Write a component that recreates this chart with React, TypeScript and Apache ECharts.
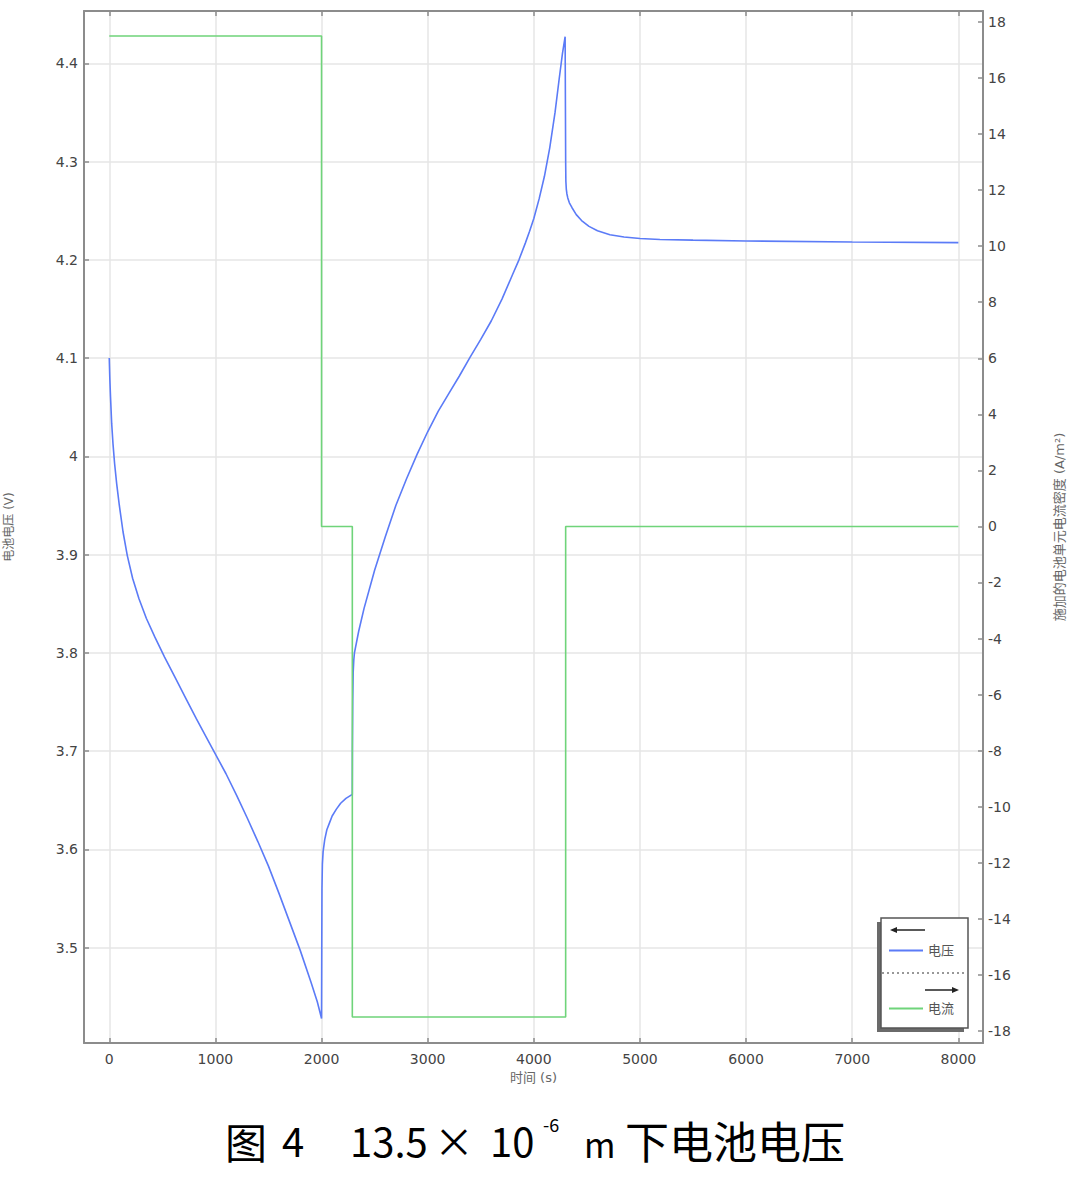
import React, { useEffect, useRef } from 'react';
import * as echarts from 'echarts';

// ---- data ----
const voltageTime = [
  0, 5, 12, 23, 35, 50, 70, 95, 130, 170, 220, 280, 350, 430, 520, 620, 720, 820, 920, 1000,
  1100, 1200, 1300, 1400, 1500, 1600, 1700, 1800, 1900, 1960, 2000,
  2002, 2004, 2008, 2015, 2030, 2050, 2075, 2100, 2140, 2180, 2230, 2290,
  2291, 2294, 2298, 2304, 2310, 2350, 2400, 2500, 2600, 2700, 2800, 2900, 3000, 3100, 3200, 3300, 3400,
  3500, 3600, 3700, 3800, 3860, 3920, 3960, 4000, 4050, 4100, 4150, 4200, 4240, 4270, 4295,
  4300, 4302, 4306, 4312, 4320, 4335, 4360, 4400, 4450, 4520, 4600, 4717, 4850, 5000, 5188, 5500, 6000, 7000, 8000,
];
const voltageValue = [
  4.1, 4.08, 4.06, 4.033, 4.013, 3.993, 3.972, 3.95, 3.923, 3.899, 3.876, 3.855, 3.835, 3.816, 3.796, 3.775, 3.754, 3.733, 3.713, 3.697,
  3.677, 3.655, 3.632, 3.608, 3.583, 3.555, 3.526, 3.497, 3.465, 3.445, 3.428,
  3.5, 3.56, 3.585, 3.598, 3.61, 3.62, 3.627, 3.634, 3.641, 3.647, 3.652, 3.656,
  3.7, 3.75, 3.78, 3.793, 3.8, 3.822, 3.845, 3.884, 3.918, 3.95, 3.977, 4.002, 4.025, 4.046, 4.064, 4.082, 4.101,
  4.119, 4.138, 4.16, 4.185, 4.2, 4.217, 4.229, 4.242, 4.262, 4.285, 4.314, 4.35, 4.385, 4.41, 4.427,
  4.3, 4.28, 4.272, 4.267, 4.263, 4.258, 4.253, 4.246, 4.24, 4.234, 4.2295, 4.2255, 4.2232, 4.2217, 4.2207, 4.22, 4.2192, 4.2182, 4.2175,
];
const currentTime = [0, 2000, 2000, 2290, 2290, 4300, 4300, 8000];
const currentValue = [17.5, 17.5, 0, 0, -17.5, -17.5, 0, 0];

const timeTicks = [0, 1000, 2000, 3000, 4000, 5000, 6000, 7000, 8000];
const voltageTicks = [3.5, 3.6, 3.7, 3.8, 3.9, 4, 4.1, 4.2, 4.3, 4.4];
const currentTicks = [-18, -16, -14, -12, -10, -8, -6, -4, -2, 0, 2, 4, 6, 8, 10, 12, 14, 16, 18];

const FONT = "'DejaVu Sans', 'Noto Sans CJK SC', sans-serif";
const AXIS_COLOR = '#8c8c8c';
const GRID_COLOR = '#e6e6e6';
const BLUE = '#5b7bf7';
const GREEN = '#6fd47a';

export default function App() {
  const ref = useRef<HTMLDivElement>(null);
  useEffect(() => {
    const chart = echarts.init(ref.current!, null, { renderer: 'svg' });
    const axisLine = { show: true, onZero: false, lineStyle: { color: AXIS_COLOR, width: 2 } };
    const tick = (vals: number[]) => ({
      show: true, inside: true, length: 5, customValues: vals,
      lineStyle: { color: AXIS_COLOR, width: 1.5 },
    });
    const label = (vals: number[], margin: number) => ({
      show: true, customValues: vals, margin, fontSize: 14, color: '#444', fontFamily: FONT,
      formatter: (v: number) => String(v),
    });
    const option: any = {
      animation: false,
      backgroundColor: '#fff',
      textStyle: { fontFamily: FONT },
      grid: { left: 84, right: 91, top: 11, bottom: 150, containLabel: false, outerBoundsMode: 'none' },
      xAxis: [
        {
          type: 'value', position: 'bottom', min: -238, max: 8232,
          name: '时间 (s)', nameLocation: 'middle', nameGap: 28,
          nameTextStyle: { fontSize: 13, color: '#666', fontFamily: FONT },
          axisLine, axisTick: tick(timeTicks), axisLabel: label(timeTicks, 9),
          splitLine: { show: true, lineStyle: { color: GRID_COLOR, width: 1.5 } },
        },
        {
          type: 'value', position: 'top', min: -238, max: 8232,
          axisLine, axisTick: tick(timeTicks), axisLabel: { show: false },
          splitLine: { show: false },
        },
      ],
      yAxis: [
        {
          type: 'value', position: 'left', min: 3.403, max: 4.4532,
          name: '电池电压 (V)', nameLocation: 'middle', nameGap: 69, nameRotate: 90,
          nameTextStyle: { fontSize: 12, color: '#666', fontFamily: FONT },
          axisLine, axisTick: tick(voltageTicks), axisLabel: label(voltageTicks, 6),
          splitLine: { show: true, lineStyle: { color: GRID_COLOR, width: 1.5 } },
        },
        {
          type: 'value', position: 'right', min: -18.43, max: 18.39,
          name: '施加的电池单元电流密度 (A/m²)', nameLocation: 'middle', nameGap: 70, nameRotate: 90,
          nameTextStyle: { fontSize: 13, color: '#666', fontFamily: FONT },
          axisLine, axisTick: tick(currentTicks), axisLabel: label(currentTicks, 5),
          splitLine: { show: false },
        },
      ],
      legend: [
        {
          data: ['电压'], orient: 'vertical', left: 889, top: 944, padding: 0,
          icon: 'rect', itemWidth: 34, itemHeight: 2,
          textStyle: { fontSize: 13, color: '#555', fontFamily: FONT },
        },
        {
          data: ['电流'], orient: 'vertical', left: 889, top: 1002, padding: 0,
          icon: 'rect', itemWidth: 34, itemHeight: 2,
          textStyle: { fontSize: 13, color: '#555', fontFamily: FONT },
        },
      ],
      series: [
        {
          name: '电压', type: 'line', xAxisIndex: 0, yAxisIndex: 0,
          data: voltageTime.map((t, i) => [t, voltageValue[i]]),
          showSymbol: false, symbol: 'none',
          itemStyle: { color: BLUE }, lineStyle: { color: BLUE, width: 1.6 },
        },
        {
          name: '电流', type: 'line', xAxisIndex: 0, yAxisIndex: 1,
          data: currentTime.map((t, i) => [t, currentValue[i]]),
          showSymbol: false, symbol: 'none',
          itemStyle: { color: GREEN }, lineStyle: { color: GREEN, width: 1.6 },
        },
      ],
      graphic: [
        // legend frame with shadow
        { type: 'rect', z: 3, shape: { x: 877, y: 922, width: 87, height: 110 }, style: { fill: '#6a6a6a' } },
        { type: 'rect', z: 3, shape: { x: 881, y: 918, width: 87, height: 110 }, style: { fill: '#fff', stroke: '#555', lineWidth: 1.5 } },
        // left arrow
        { type: 'line', z: 5, shape: { x1: 895, y1: 930, x2: 925, y2: 930 }, style: { stroke: '#222', lineWidth: 1.5 } },
        { type: 'polygon', z: 5, shape: { points: [[890, 930], [897, 927], [897, 933]] }, style: { fill: '#222' } },
        // separator
        { type: 'line', z: 5, shape: { x1: 882, y1: 973, x2: 967, y2: 973 }, style: { stroke: '#777', lineWidth: 1.5, lineDash: [2, 3] } },
        // right arrow
        { type: 'line', z: 5, shape: { x1: 925, y1: 990, x2: 954, y2: 990 }, style: { stroke: '#222', lineWidth: 1.5 } },
        { type: 'polygon', z: 5, shape: { points: [[959, 990], [952, 987], [952, 993]] }, style: { fill: '#222' } },
        // caption
        { type: 'text', z: 5, x: 225, y: 1140, style: { text: '图', font: "42px 'Noto Sans CJK SC'", fill: '#000', verticalAlign: 'middle' } },
        { type: 'text', z: 5, x: 282, y: 1140, style: { text: '4', font: "40px 'Noto Sans CJK SC'", fill: '#000', verticalAlign: 'middle' } },
        { type: 'text', z: 5, x: 350, y: 1140, style: { text: '13.5', font: "40px 'Noto Sans CJK SC'", fill: '#000', verticalAlign: 'middle' } },
        { type: 'text', z: 5, x: 434, y: 1140, style: { text: '×', font: "40px 'Noto Sans CJK SC'", fill: '#000', verticalAlign: 'middle' } },
        { type: 'text', z: 5, x: 490, y: 1140, style: { text: '10', font: "40px 'Noto Sans CJK SC'", fill: '#000', verticalAlign: 'middle' } },
        { type: 'text', z: 5, x: 543, y: 1124, style: { text: '-6', font: "18px 'Noto Sans CJK SC'", fill: '#000', verticalAlign: 'middle' } },
        { type: 'text', z: 5, x: 584, y: 1143, style: { text: 'm', font: "34px 'Noto Sans CJK SC'", fill: '#000', verticalAlign: 'middle' } },
        { type: 'text', z: 5, x: 625, y: 1140, style: { text: '下电池电压', font: "44px 'Noto Sans CJK SC'", fill: '#000', verticalAlign: 'middle' } },
      ],
    };
    chart.setOption(option);
    return () => chart.dispose();
  }, []);
  return (
    <div
      ref={ref}
      style={{ position: 'absolute', left: 0, top: 0, width: 1074, height: 1193, background: '#fff' }}
    />
  );
}
